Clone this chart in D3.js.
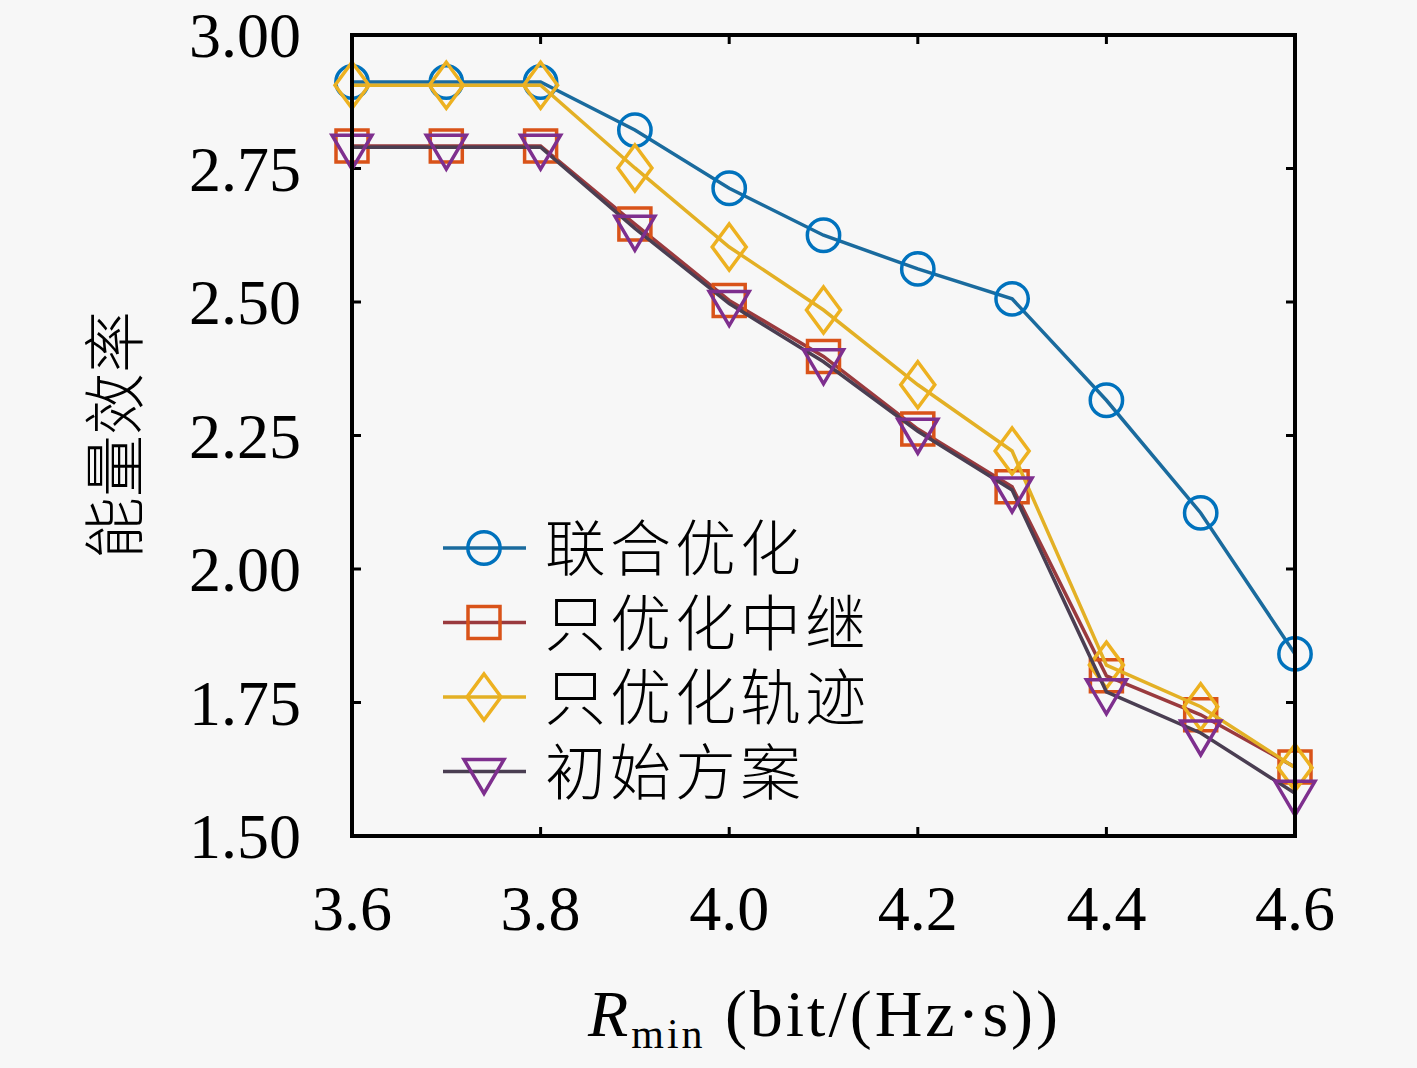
<!DOCTYPE html>
<html>
<head>
<meta charset="utf-8">
<script src="https://cdn.jsdelivr.net/npm/d3@7"></script>
<style>
  html, body { margin: 0; padding: 0; background: #f7f7f7; }
  svg { display: block; }
</style>
</head>
<body>
<div id="chart"></div>
<script>
// Data
const rmin = [3.6, 3.7, 3.8, 3.9, 4.0, 4.1, 4.2, 4.3, 4.4, 4.5, 4.6];
const joint = [2.912, 2.912, 2.912, 2.822, 2.713, 2.625, 2.562, 2.506, 2.316, 2.105, 1.841];
const relayOnly = [2.792, 2.792, 2.792, 2.646, 2.503, 2.398, 2.262, 2.154, 1.800, 1.727, 1.629];
const trajOnly = [2.906, 2.906, 2.906, 2.751, 2.603, 2.485, 2.345, 2.221, 1.820, 1.742, 1.628];
const initial = [2.790, 2.790, 2.790, 2.638, 2.497, 2.388, 2.258, 2.148, 1.770, 1.693, 1.580];
const seriesNames = ["联合优化", "只优化中继", "只优化轨迹", "初始方案"];
const xTicks = [3.6, 3.8, 4.0, 4.2, 4.4, 4.6];
const yTicks = [1.5, 1.75, 2.0, 2.25, 2.5, 2.75, 3.0];

const width = 1417, height = 1068;
const margin = {left: 352, right: 122, top: 35, bottom: 232};

let svg = d3.select("#chart").append("svg")
  .attr("width", width).attr("height", height);

let x = d3.scaleLinear().domain([3.6, 4.6]).range([margin.left, width - margin.right]);
let y = d3.scaleLinear().domain([1.5, 3.0]).range([height - margin.bottom, margin.top]);

// Series styles (line colour is darker than the marker, as in the figure)
let series = [
  {name: seriesNames[0], values: joint, line: "#1a6b9e", mark: "#0072BD", shape: "circle"},
  {name: seriesNames[1], values: relayOnly, line: "#9a3a3e", mark: "#D95319", shape: "square"},
  {name: seriesNames[2], values: trajOnly, line: "#e3b025", mark: "#EDB120", shape: "diamond"},
  {name: seriesNames[3], values: initial, line: "#4a3e52", mark: "#7E2F8E", shape: "triangle"}
];

function markerPath(shape) {
  if (shape === "circle") return d3.symbol(d3.symbolCircle, 820)();
  if (shape === "square") return "M-16,-16L16,-16L16,16L-16,16Z";
  if (shape === "diamond") return "M0,-23L17,0L0,23L-17,0Z";
  return "M-20,-12L20,-12L0,22Z";
}

const tickFont = "'Liberation Serif', 'DejaVu Serif', serif";
const cjkFont = "'Noto Sans CJK SC', sans-serif";

// Ticks pointing inward on all four sides
let ax = svg.append("g").attr("stroke", "#000").attr("stroke-width", 3);
xTicks.forEach(t => {
  ax.append("line").attr("x1", x(t)).attr("x2", x(t)).attr("y1", y(1.5)).attr("y2", y(1.5) - 9);
  ax.append("line").attr("x1", x(t)).attr("x2", x(t)).attr("y1", y(3.0)).attr("y2", y(3.0) + 9);
});
yTicks.forEach(t => {
  ax.append("line").attr("x1", x(3.6)).attr("x2", x(3.6) + 9).attr("y1", y(t)).attr("y2", y(t));
  ax.append("line").attr("x1", x(4.6)).attr("x2", x(4.6) - 9).attr("y1", y(t)).attr("y2", y(t));
});

// Tick labels
svg.append("g").selectAll("text").data(xTicks).join("text")
  .attr("x", d => x(d)).attr("y", 930)
  .attr("text-anchor", "middle")
  .style("font-family", tickFont).style("font-size", "64px")
  .text(d => d3.format(".1f")(d));

svg.append("g").selectAll("text").data(yTicks).join("text")
  .attr("x", 301).attr("y", d => y(d) + 22)
  .attr("text-anchor", "end")
  .style("font-family", tickFont).style("font-size", "64px")
  .text(d => d3.format(".2f")(d));

// Lines and markers
let lineGen = d3.line().x((d, i) => x(rmin[i])).y(d => y(d));

series.forEach(s => {
  svg.append("path")
    .attr("d", lineGen(s.values))
    .attr("fill", "none").attr("stroke", s.line).attr("stroke-width", 3.5);
  svg.append("g").selectAll("path").data(s.values).join("path")
    .attr("transform", (d, i) => `translate(${x(rmin[i])},${y(d)})`)
    .attr("d", markerPath(s.shape))
    .attr("fill", "none").attr("stroke", s.mark).attr("stroke-width", 3.5);
});

// Frame
svg.append("rect")
  .attr("x", x(3.6)).attr("y", y(3.0))
  .attr("width", x(4.6) - x(3.6)).attr("height", y(1.5) - y(3.0))
  .attr("fill", "none").attr("stroke", "#000").attr("stroke-width", 4);

// Legend (slightly smaller font + letter spacing so rows don't collide)
let legend = svg.append("g").attr("transform", "translate(443,548)");
series.forEach((s, i) => {
  let g = legend.append("g").attr("transform", `translate(0,${i * 74.5})`);
  g.append("line").attr("x1", 0).attr("x2", 83).attr("y1", 0).attr("y2", 0)
    .attr("stroke", s.line).attr("stroke-width", 3.5);
  g.append("path").attr("transform", "translate(41,0)").attr("d", markerPath(s.shape))
    .attr("fill", "none").attr("stroke", s.mark).attr("stroke-width", 3.5);
  g.append("text").attr("x", 102).attr("y", 23)
    .style("font-family", cjkFont).style("font-size", "61px")
    .style("letter-spacing", "4px")
    .style("font-weight", 300)
    .text(s.name);
});

// Axis titles
svg.append("text")
  .attr("transform", "translate(138,435) rotate(-90)")
  .attr("text-anchor", "middle")
  .style("font-family", cjkFont).style("font-size", "62px")
  .style("font-weight", 300)
  .text("能量效率");

let xt = svg.append("text")
  .attr("x", 588).attr("y", 1036)
  .attr("textLength", 470).attr("lengthAdjust", "spacing")
  .style("font-family", tickFont).style("font-size", "66px");
xt.append("tspan").style("font-style", "italic").text("R");
xt.append("tspan").attr("dy", 12).style("font-size", "42px").text("min");
xt.append("tspan").attr("dy", -12).text(" (bit/(Hz·s))");
</script>
</body>
</html>
